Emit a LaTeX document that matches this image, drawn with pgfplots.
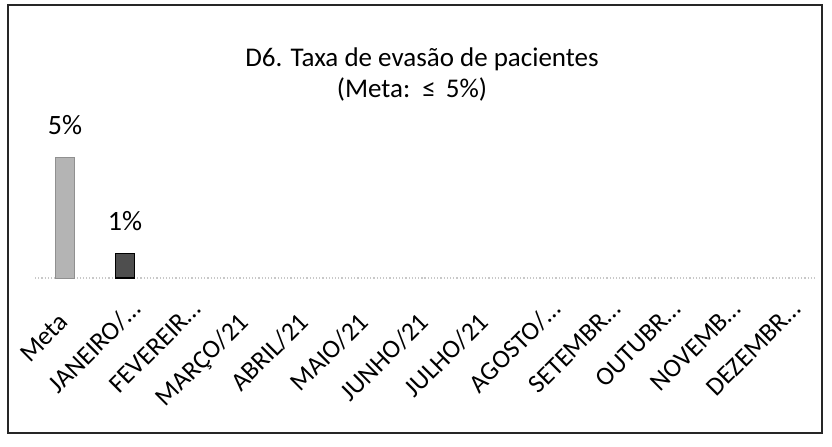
\documentclass[border=0pt]{standalone}
\usepackage{pgfplots}
\pgfplotsset{compat=1.18}
\usepackage{fontspec}
\setmainfont{Carlito}

\definecolor{metagray}{HTML}{B4B4B4}
\definecolor{mesgray}{HTML}{4E4E4E}
\definecolor{basegray}{HTML}{C8C8C8}

% truncated month names: the ellipsis hangs past the anchor, as in the source
\newcommand{\cut}[1]{#1\rlap{…}}

\begin{document}
\begin{tikzpicture}
    % page area and outer frame of the chart
    \path (0,0) rectangle (416bp,223.5bp);
    \draw[line width=0.8bp, black!85] (4bp,7bp) rectangle (411bp,221bp);

    \begin{axis}[
        at={(17.5bp,84.5bp)},
        anchor=south west,
        scale only axis,
        width=390bp,
        height=72.6bp,
        ybar,
        bar width=9.5bp,
        bar shift=0pt,
        xmin=-0.5, xmax=12.5,
        ymin=0, ymax=6,
        axis y line=none,
        axis x line*=bottom,
        x axis line style={basegray, line width=0.6bp, densely dotted},
        xtick={0,1,2,3,4,5,6,7,8,9,10,11,12},
        xtick style={draw=none},
        xticklabels={Meta, {\cut{JANEIRO/}}, {\cut{FEVEREIR}}, MARÇO/21,
            ABRIL/21, MAIO/21, JUNHO/21, JULHO/21, {\cut{AGOSTO/}},
            {\cut{SETEMBR}}, {\cut{OUTUBR}}, {\cut{NOVEMB}}, {\cut{DEZEMBR}}},
        xticklabel style={yshift=-18.5bp, xshift=2.5bp, rotate=45,
            anchor=base east, inner sep=0pt,
            font=\fontsize{13bp}{15bp}\selectfont},
        nodes near coords={\pgfmathprintnumber[assume math mode=true]{\pgfplotspointmeta}\%},
        every node near coord/.append style={
            font=\fontsize{14bp}{17bp}\selectfont, inner sep=0pt,
            anchor=south, yshift=11bp, black},
        clip=false,
    ]
        \addplot[fill=metagray, draw=metagray!80!black, line width=0.3bp]
            coordinates {(0,5)};
        \addplot[fill=mesgray, draw=black, line width=0.6bp]
            coordinates {(1,1)};
    \end{axis}

    \node[anchor=base, font=\fontsize{13.5bp}{16bp}\selectfont] at (211bp,190bp)
        {D6. Taxa de evasão de pacientes};
    \node[anchor=base, font=\fontsize{13.5bp}{16bp}\selectfont] at (206bp,174.5bp)
        {(Meta:\hspace{2bp} ≤\hspace{2bp} 5\%)};
\end{tikzpicture}
\end{document}
